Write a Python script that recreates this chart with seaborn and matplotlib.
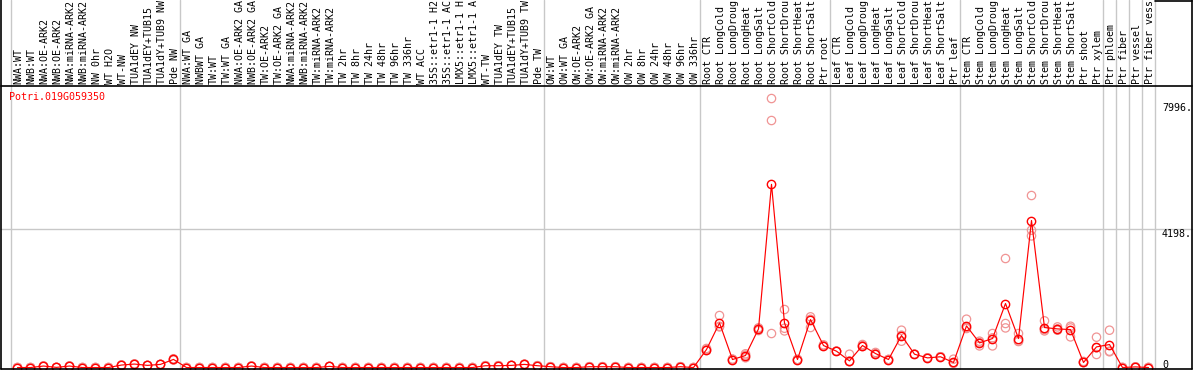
"""
Expression profile of Potri.019G059350 across poplar samples
(eFP-style line chart with replicate points).
"""

import matplotlib
matplotlib.use("Agg")
import matplotlib.pyplot as plt
import matplotlib.transforms as mtransforms
import seaborn as sns
import pandas as pd

# ---------------------------------------------------------------- data
gene_id = "Potri.019G059350"

sample_labels = [
    # normal wood
    "NWA:WT", "NWB:WT", "NWA:OE-ARK2", "NWB:OE-ARK2", "NWA:miRNA-ARK2",
    "NWB:miRNA-ARK2", "NW 0hr", "WT H2O", "WT-NW", "TUA1dEY NW",
    "TUA1dEY+TUB15", "TUA1dY+TUB9 NW", "Pde NW",
    # tension wood
    "NWA:WT GA", "NWBWT GA", "TW:WT", "TW:WT GA", "NWA:OE-ARK2 GA",
    "NWB:OE-ARK2 GA", "TW:OE-ARK2", "TW:OE-ARK2 GA", "NWA:miRNA-ARK2",
    "NWB:miRNA-ARK2", "TW:miRNA-ARK2", "TW:miRNA-ARK2", "TW 2hr", "TW 8hr",
    "TW 24hr", "TW 48hr", "TW 96hr", "TW 336hr", "WT ACC", "35S::etr1-1 H2",
    "35S::etr1-1 AC", "LMX5::etr1-1 H", "LMX5::etr1-1 A", "WT-TW",
    "TUA1dEY TW", "TUA1dEY+TUB15", "TUA1dY+TUB9 TW", "Pde TW",
    # opposite wood
    "OW:WT", "OW:WT GA", "OW:OE-ARK2", "OW:OE-ARK2 GA", "OW:miRNA-ARK2",
    "OW:miRNA-ARK2", "OW 2hr", "OW 8hr", "OW 24hr", "OW 48hr", "OW 96hr",
    "OW 336hr",
    # root
    "Root CTR", "Root LongCold", "Root LongDroug", "Root LongHeat",
    "Root LongSalt", "Root ShortCold", "Root ShortDrou", "Root ShortHeat",
    "Root ShortSalt", "Ptr root",
    # leaf
    "Leaf CTR", "Leaf LongCold", "Leaf LongDroug", "Leaf LongHeat",
    "Leaf LongSalt", "Leaf ShortCold", "Leaf ShortDrou", "Leaf ShortHeat",
    "Leaf ShortSalt", "Ptr leaf",
    # stem
    "Stem CTR", "Stem LongCold", "Stem LongDroug", "Stem LongHeat",
    "Stem LongSalt", "Stem ShortCold", "Stem ShortDrou", "Stem ShortHeat",
    "Stem ShortSalt", "Ptr shoot", "Ptr xylem",
    "Ptr phloem", "Ptr fiber", "Ptr vessel", "Ptr fiber vess",
]

mean_values = [
    5, 5, 50, 10, 50, 5, 5, 5, 80, 110, 70, 100, 250,
    5, 5, 5, 5, 5, 50, 5, 5, 5, 5, 5, 40, 5, 5, 5, 5, 5, 5, 5, 5, 5, 5, 5,
    60, 60, 70, 100, 60,
    30, 5, 5, 30, 30, 30, 5, 5, 5, 5, 30, 5,
    549, 1351, 247, 368, 1170, 5530, 1351, 247, 1453, 669,
    498, 206, 669, 427, 247, 970, 407, 296, 330, 157,
    1261, 749, 880, 1936, 880, 4439, 1212, 1170, 1150, 157, 628,
    699, 6, 24, 6,
]

# replicates where they visibly differ from the mean
replicate_values = {
    12: [230, 270, 250],
    39: [90, 110, 100],
    53: [520, 580, 549],
    54: [1574, 1231, 1250],
    55: [230, 260, 250],
    56: [300, 420, 380],
    57: [1200, 1120, 1190],
    58: [8118, 7455, 1031],
    59: [1755, 1110, 1190],
    61: [1534, 1212, 1460],
    62: [650, 690, 669],
    64: [407, 180, 200],
    65: [700, 640, 669],
    66: [460, 400, 427],
    68: [1131, 799, 980],
    72: [257, 130, 150],
    73: [1463, 1182, 1200],
    74: [658, 800, 760],
    75: [1031, 658, 900],
    76: [3293, 1333, 1200],
    77: [1031, 790, 800],
    78: [5193, 4147, 3975],
    79: [1413, 1110, 1150],
    80: [1230, 1130, 1170],
    81: [1251, 930, 1200],
    82: [190, 157, 157],
    83: [920, 398, 600],
    84: [1131, 498, 480],
}

group_edges = [0, 13, 41, 53, 63, 73, 84, 85, 86, 87, 88]
tick_values = [0, 4198, 7996]
tick_labels = ["0", "4198.", "7996."]

# ---------------------------------------------------------------- tables
mean_df = pd.DataFrame({"idx": range(len(mean_values)), "value": mean_values})
rep_rows = []
for i, m in enumerate(mean_values):
    for v in replicate_values.get(i, [m, m, m]):
        rep_rows.append({"idx": i, "value": v})
rep_df = pd.DataFrame(rep_rows)

# ---------------------------------------------------------------- layout
W, H = 1194, 370
PLOT_L, PLOT_R = 1, 1155       # data area, pixels
PLOT_T, PLOT_B = 86, 368.5
FRAME_R = 1192

sns.set_style("white")
plt.rcParams["font.family"] = ["DejaVu Sans Mono"]
FS = 7.2

fig = plt.figure(figsize=(W / 100, H / 100), dpi=100)
fig.patch.set_facecolor("white")
ax = fig.add_axes([PLOT_L / W, (H - PLOT_B) / H,
                   (PLOT_R - PLOT_L) / W, (PLOT_B - PLOT_T) / H])
ax.set_facecolor("none")

pw = PLOT_R - PLOT_L
ph = PLOT_B - PLOT_T


def fx(x):
    return (x - PLOT_L) / pw


def fy(y):
    return (PLOT_B - y) / ph


ax.set_xlim(-1.269, 87.5)
ax.set_ylim(-24, 8496)

# grid / separators
grey = "#c8c8c8"
for e in group_edges:
    ax.axvline(e - 0.5, ymin=0, ymax=fy(0), color=grey, lw=1,
               clip_on=False, zorder=0)
ax.axhline(4198, xmin=0, xmax=fx(FRAME_R), color=grey, lw=1,
           clip_on=False, zorder=0)

# replicates and means
sns.scatterplot(data=rep_df, x="idx", y="value", ax=ax, marker="o", s=36,
                facecolor="none", edgecolor="#f09494", linewidth=0.9,
                legend=False, zorder=2)
sns.lineplot(data=mean_df, x="idx", y="value", ax=ax, color="red", lw=0.85,
             marker="o", markersize=6, markerfacecolor="none",
             markeredgecolor="red", markeredgewidth=1.0, errorbar=None,
             zorder=3)

# frame
for s in ax.spines.values():
    s.set_visible(False)
frame_kw = dict(transform=ax.transAxes, color="black", lw=1.2,
                clip_on=False, zorder=4)
ax.plot([0, fx(FRAME_R)], [1, 1], **frame_kw)
ax.plot([0, fx(FRAME_R)], [0, 0], **frame_kw)
ax.plot([0, 0], [0, fy(0)], **frame_kw)
ax.plot([fx(FRAME_R)] * 2, [0, fy(0)], **frame_kw)
ax.plot([fx(PLOT_R), fx(FRAME_R)], [fy(0.5)] * 2, **frame_kw)

ax.set_xticks([])
ax.set_yticks([])
ax.set_xlabel("")
ax.set_ylabel("")

# sample labels above the plot
lab_tr = mtransforms.blended_transform_factory(ax.transData, ax.transAxes)
for i, lab in enumerate(sample_labels):
    ax.text(i + 0.1, fy(PLOT_T - 2), lab, transform=lab_tr, rotation=90,
            ha="center", va="bottom", fontsize=FS, color="black")

# gene id
ax.text(fx(9), fy(92), gene_id, transform=ax.transAxes, ha="left",
        va="top", fontsize=FS, color="red")

# y labels on the right
ytr = mtransforms.blended_transform_factory(ax.transAxes, ax.transData)
for v, lab in zip(tick_values, tick_labels):
    ax.text(fx(1162), v, lab, transform=ytr, ha="left",
            va="baseline" if v == 0 else "top", fontsize=FS, color="black")

fig.savefig("out.png", dpi=100, facecolor="white")
